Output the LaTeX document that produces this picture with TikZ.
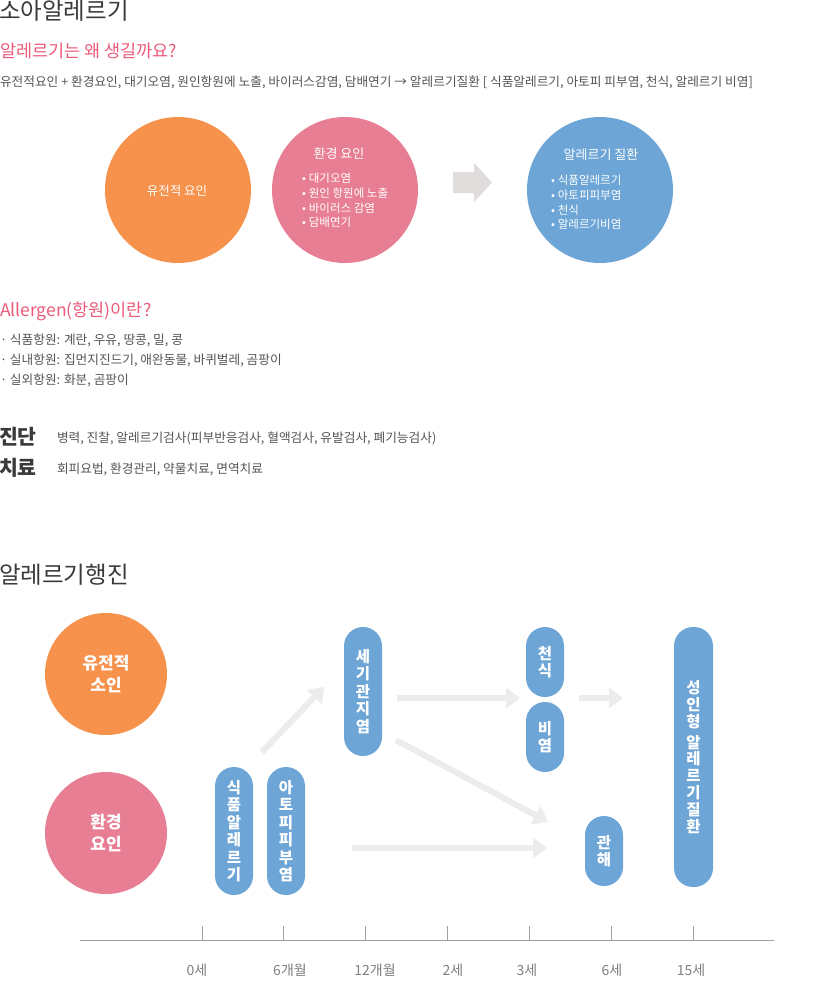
\documentclass[tikz,border=0pt]{standalone}
\usepackage{fontspec}
\setmainfont{Noto Sans CJK KR}
\usetikzlibrary{arrows.meta,calc}
\definecolor{cOrange}{HTML}{F6924C}
\definecolor{cPink}{HTML}{E87E94}
\definecolor{cBlue}{HTML}{6CA5D6}
\definecolor{cHead}{HTML}{3A3A3A}
\definecolor{cText}{HTML}{555555}
\definecolor{cRed}{HTML}{EB5A78}
\definecolor{cArrow}{HTML}{EDEBEB}
\definecolor{cBigArrow}{HTML}{E0DCDC}
\definecolor{cAxis}{HTML}{A0A0A0}
\definecolor{cLabel}{HTML}{808080}
\newcommand\fsz[2]{\fontsize{#1}{#2}\selectfont}
\begin{document}
\begin{tikzpicture}[x=1pt,y=-1pt,
  every node/.style={inner sep=0pt, outer sep=0pt},
  headtxt/.style={anchor=west, text=cHead, font=\fsz{23.5}{28}},
  subtxt/.style={anchor=west, text=cRed, font=\fsz{17.5}{20}},
  bodytxt/.style={anchor=west, text=cText, font=\fsz{12.7}{15}},
  bigcirc/.style={circle, minimum size=146pt, text=white},
  smallcirc/.style={circle, minimum size=122pt, text=white, font=\bfseries\fsz{17}{22}, align=center},
  pill/.style={fill=cBlue, rounded corners=19pt, minimum width=38pt, text=white, font=\bfseries\fsz{15.5}{17.5}, align=center},
  garrow/.style={draw=cArrow, line width=6pt, -{Triangle[width=20pt,length=14pt]}},
  ticks/.style={draw=cAxis, line width=1pt},
  tlabel/.style={text=cLabel, font=\fsz{14}{16}},
  bullets/.style={anchor=north west, text=white, font=\fsz{11.5}{14.8}, align=left},
]
\fill[white] (0,0) rectangle (827,1002);
\useasboundingbox (0,0) rectangle (827,1002);

% ---------- top section ----------
\node[headtxt] (title1) at (-1,11) {소아알레르기};
\node[subtxt] (q1) at (0,51) {알레르기는 왜 생길까요?};
\node[bodytxt] (line1) at (0,82) {유전적요인 + 환경요인, 대기오염, 원인항원에 노출, 바이러스감염, 담배연기 → 알레르기질환 [ 식품알레르기, 아토피 피부염, 천식, 알레르기 비염]};

\node[bigcirc, fill=cOrange] (c1) at (178,190) {};
\node[text=white, font=\fsz{12.5}{14}] (c1t) at (177,191) {유전적 요인};

\node[bigcirc, fill=cPink] (c2) at (345,190) {};
\node[text=white, font=\fsz{13}{14}] (c2t) at (339,154) {환경 요인};
\node[bullets] (c2b) at (302,173) {•\hspace{3pt}대기오염\\•\hspace{3pt}원인 항원에 노출\\•\hspace{3pt}바이러스 감염\\•\hspace{3pt}담배연기};

\fill[cBigArrow] (453,172) -- (474,172) -- (474,163) -- (492,182.5) -- (474,202) -- (474,193) -- (453,193) -- cycle;

\node[bigcirc, fill=cBlue] (c3) at (600,190) {};
\node[text=white, font=\fsz{13}{14}] (c3t) at (601,155) {알레르기 질환};
\node[bullets] (c3b) at (551,175) {•\hspace{3pt}식품알레르기\\•\hspace{3pt}아토피피부염\\•\hspace{3pt}천식\\•\hspace{3pt}알레르기비염};

% ---------- allergen ----------
\node[subtxt] (q2) at (0,311) {Allergen(항원)이란?};
\node[bodytxt] (al1) at (0,340) {· 식품항원: 계란, 우유, 땅콩, 밀, 콩};
\node[bodytxt] (al2) at (0,360) {· 실내항원: 집먼지진드기, 애완동물, 바퀴벌레, 곰팡이};
\node[bodytxt] (al3) at (0,380) {· 실외항원: 화분, 곰팡이};

\node[anchor=west, text=cHead, font=\bfseries\fsz{20.5}{24}] (dx) at (-1,437) {진단};
\node[bodytxt] (dxt) at (57,438) {병력, 진찰, 알레르기검사(피부반응검사, 혈액검사, 유발검사, 폐기능검사)};
\node[anchor=west, text=cHead, font=\bfseries\fsz{20.5}{24}] (tx) at (-1,468) {치료};
\node[bodytxt] (txt) at (57,469) {회피요법, 환경관리, 약물치료, 면역치료};

% ---------- allergy march ----------
\node[headtxt] (title2) at (-1,575) {알레르기행진};

\node[smallcirc, fill=cOrange] (gen) at (106,674) {유전적\\소인};
\node[smallcirc, fill=cPink] (env) at (106,833) {환경\\요인};

\node[pill, minimum height=128pt] (fa) at (234,831) {식\\품\\알\\레\\르\\기};
\node[pill, minimum height=128pt] (ad) at (286,831) {아\\토\\피\\피\\부\\염};
\node[pill, minimum height=129pt] (bron) at (363,691.5) {세\\기\\관\\지\\염};
\node[pill, minimum height=70pt] (asth) at (545,662) {천\\식};
\node[pill, minimum height=70pt] (rhin) at (545,737) {비\\염};
\node[pill, minimum height=70pt] (remi) at (604,851) {관\\해};
\node[pill, minimum height=260pt, minimum width=39pt, font=\bfseries\fsz{15.5}{16.8}] (adult) at (693.5,757) {성\\인\\형\\[4pt]알\\레\\르\\기\\질\\환};

\coordinate (a1s) at (262,752);
\coordinate (a1e) at (324,687);
\coordinate (a2s) at (397,698);
\coordinate (a2e) at (520,698);
\coordinate (a3s) at (579,698);
\coordinate (a3e) at (623,698);
\coordinate (a4s) at (396,740);
\coordinate (a4e) at (548,822);
\coordinate (a5s) at (352,848);
\coordinate (a5e) at (547,848);
\draw[garrow] (a1s) -- (a1e);
\draw[garrow] (a2s) -- (a2e);
\draw[garrow] (a3s) -- (a3e);
\draw[garrow] (a4s) -- (a4e);
\draw[garrow] (a5s) -- (a5e);

% ---------- timeline ----------
\coordinate (axL) at (80,940);
\coordinate (axR) at (774,940);
\draw[ticks] (axL) -- (axR);
\foreach \x in {202,283,365,447,529,611,693} {
  \draw[ticks] (\x,926) -- (\x,940);
}
\node[tlabel] (l0) at (197,970) {0세};
\node[tlabel] (l1) at (290,970) {6개월};
\node[tlabel] (l2) at (375,970) {12개월};
\node[tlabel] (l3) at (453,970) {2세};
\node[tlabel] (l4) at (527,970) {3세};
\node[tlabel] (l5) at (612,970) {6세};
\node[tlabel] (l6) at (691,970) {15세};
\end{tikzpicture}
\end{document}
